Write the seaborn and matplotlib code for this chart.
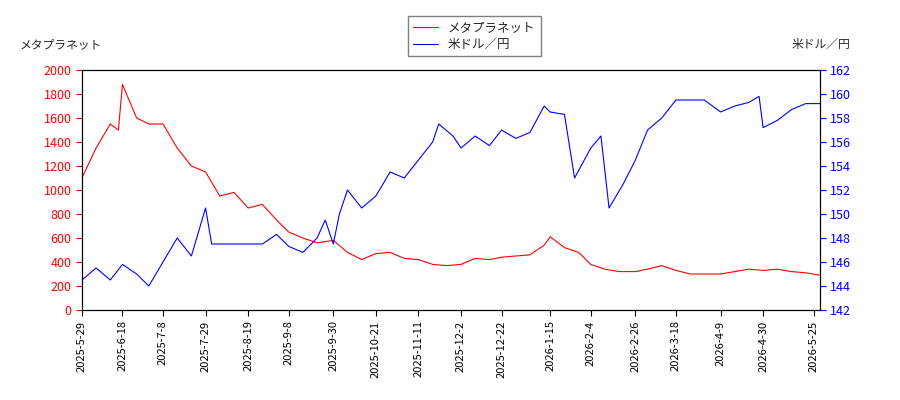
import matplotlib
matplotlib.use("Agg")
import matplotlib.pyplot as plt
import seaborn as sns
import pandas as pd

sns.set_style("white")
plt.rcParams['font.family'] = ['Noto Sans CJK JP', 'DejaVu Sans']

red_dates = ["2025-05-29","2025-06-05","2025-06-12","2025-06-16","2025-06-18","2025-06-25","2025-07-01","2025-07-08","2025-07-15","2025-07-22","2025-07-29","2025-08-05","2025-08-12","2025-08-19","2025-08-26","2025-09-02","2025-09-08","2025-09-15","2025-09-22","2025-09-30","2025-10-07","2025-10-14","2025-10-21","2025-10-28","2025-11-04","2025-11-11","2025-11-18","2025-11-25","2025-12-02","2025-12-09","2025-12-16","2025-12-22","2025-12-29","2026-01-05","2026-01-12","2026-01-15","2026-01-22","2026-01-29","2026-02-04","2026-02-11","2026-02-18","2026-02-26","2026-03-04","2026-03-11","2026-03-18","2026-03-25","2026-04-01","2026-04-09","2026-04-16","2026-04-23","2026-04-30","2026-05-07","2026-05-14","2026-05-21","2026-05-28"]
red_vals = [1100,1350,1550,1500,1880,1600,1550,1550,1350,1200,1150,950,980,850,880,750,650,600,560,580,480,420,470,480,430,420,380,370,380,430,420,440,450,460,540,610,520,480,380,340,320,320,340,370,330,300,300,300,320,340,330,340,320,310,290]

blue_dates = ["2025-05-29","2025-06-05","2025-06-12","2025-06-18","2025-06-25","2025-07-01","2025-07-08","2025-07-15","2025-07-22","2025-07-29","2025-08-01","2025-08-08","2025-08-19","2025-08-26","2025-09-02","2025-09-08","2025-09-15","2025-09-22","2025-09-26","2025-09-30","2025-10-03","2025-10-07","2025-10-14","2025-10-21","2025-10-28","2025-11-04","2025-11-11","2025-11-18","2025-11-21","2025-11-28","2025-12-02","2025-12-09","2025-12-16","2025-12-22","2025-12-29","2026-01-05","2026-01-12","2026-01-15","2026-01-22","2026-01-27","2026-02-04","2026-02-09","2026-02-13","2026-02-20","2026-02-26","2026-03-04","2026-03-11","2026-03-18","2026-03-25","2026-04-01","2026-04-09","2026-04-16","2026-04-23","2026-04-28","2026-04-30","2026-05-07","2026-05-14","2026-05-21","2026-05-28"]
blue_vals = [144.5,145.5,144.5,145.8,145.0,144.0,146,148,146.5,150.5,147.5,147.5,147.5,147.5,148.3,147.3,146.8,148,149.5,147.5,150,152,150.5,151.5,153.5,153.0,154.5,156,157.5,156.5,155.5,156.5,155.7,157,156.3,156.8,159.0,158.5,158.3,153.0,155.5,156.5,150.5,152.5,154.5,157,158,159.5,159.5,159.5,158.5,159,159.3,159.8,157.2,157.8,158.7,159.2,159.2]

tick_labels = ["2025-5-29","2025-6-18","2025-7-8","2025-7-29","2025-8-19","2025-9-8","2025-9-30","2025-10-21","2025-11-11","2025-12-2","2025-12-22","2026-1-15","2026-2-4","2026-2-26","2026-3-18","2026-4-9","2026-4-30","2026-5-25"]

dr = pd.DataFrame({"date": pd.to_datetime(red_dates), "v": red_vals})
db = pd.DataFrame({"date": pd.to_datetime(blue_dates), "v": blue_vals})

fig = plt.figure(figsize=(9, 4), dpi=100)
ax = fig.add_axes([0.091, 0.225, 0.82, 0.6])
ax2 = ax.twinx()
sns.lineplot(data=dr, x="date", y="v", ax=ax, color="red", lw=0.8, label="メタプラネット", legend=False)
sns.lineplot(data=db, x="date", y="v", ax=ax2, color="blue", lw=0.8, label="米ドル／円", legend=False)
ax.set_ylim(0, 2000); ax.set_yticks(range(0, 2001, 200))
ax2.set_ylim(142, 162); ax2.set_yticks(range(142, 163, 2))
ax.set_xlim(pd.Timestamp("2025-05-29"), pd.Timestamp("2026-05-28"))
ticks = pd.to_datetime(tick_labels)
ax.set_xticks(ticks)
ax.set_xticklabels(tick_labels, rotation=90, fontsize=8)
ax.tick_params(axis='y', colors='red', labelsize=9)
ax2.tick_params(axis='y', colors='blue', labelsize=9)
for a in (ax, ax2):
    a.tick_params(axis='both', direction='out', length=4, left=(a is ax), right=(a is ax2), bottom=True)
    a.set_xlabel(""); a.set_ylabel("")
    for s in a.spines.values():
        s.set_color("black")
ax.tick_params(axis='x', colors='black')
fig.text(0.022, 0.88, "メタプラネット", fontsize=8.5)
fig.text(0.945, 0.88, "米ドル／円", fontsize=8.5, ha="right")
h1, l1 = ax.get_legend_handles_labels()
h2, l2 = ax2.get_legend_handles_labels()
fig.legend(h1 + h2, l1 + l2, loc="upper center", bbox_to_anchor=(0.527, 0.975), fontsize=9, framealpha=1, edgecolor="gray", fancybox=False, borderpad=0.4, labelspacing=0.3)
fig.savefig("out.png", dpi=100)
